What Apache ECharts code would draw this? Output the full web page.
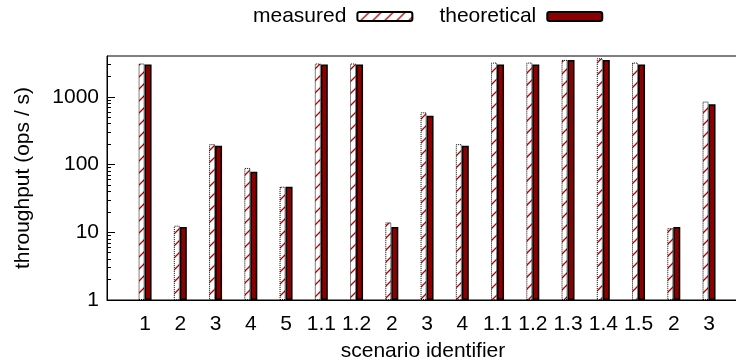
<!DOCTYPE html>
<html>
<head>
<meta charset="utf-8">
<script src="https://cdn.jsdelivr.net/npm/echarts@6/dist/echarts.min.js"></script>
<style>
  html, body { margin: 0; padding: 0; background: #fff; }
  #chart { width: 736px; height: 363px; }
</style>
</head>
<body>
<div id="chart"></div>
<script>
// scenario labels along the x axis
const categories = ['1', '2', '3', '4', '5', '1.1', '1.2', '2', '3', '4', '1.1', '1.2', '1.3', '1.4', '1.5', '2', '3'];
// throughput values (ops / s)
const measured    = [3100, 12.5, 200, 89, 47, 3100, 3100, 14, 590, 200, 3200, 3200, 3500, 3700, 3200, 11.5, 850];
const theoretical = [3000, 12,   190, 78, 47, 3000, 3000, 12, 525, 190, 3000, 3000, 3500, 3500, 3000, 12,   775];
// log axis ticks
const yMajorTicks = [1, 10, 100, 1000];
const yMinorTicks = [2, 3, 4, 5, 6, 7, 8, 9, 20, 30, 40, 50, 60, 70, 80, 90, 200, 300, 400, 500, 600, 700, 800, 900, 2000, 3000];

const X_MIN = -1.08, X_MAX = 16.85;
const FONT = 'Liberation Sans';
const FS = 21;
const darkRed = '#8b0000';

// hatch pattern for the "measured" bars
function hatchTile() {
    const c = document.createElement('canvas');
    c.width = 12; c.height = 12;
    const ctx = c.getContext('2d');
    ctx.fillStyle = '#fff';
    ctx.fillRect(0, 0, 12, 12);
    ctx.strokeStyle = '#b00000';
    ctx.lineWidth = 1.3;
    ctx.beginPath();
    ctx.moveTo(-1, 13); ctx.lineTo(13, -1);
    ctx.moveTo(-1, 1); ctx.lineTo(1, -1);
    ctx.moveTo(11, 13); ctx.lineTo(13, 11);
    ctx.stroke();
    return c;
}

const chart = echarts.init(document.getElementById('chart'));
const idx = categories.map((_, i) => i);
const logAxisBase = { type: 'log', logBase: 10, min: 1, max: 4000, splitLine: { show: false }, minorTick: { show: false } };

chart.setOption({
    animation: false,
    textStyle: { fontFamily: FONT },
    legend: {
        top: 1,
        left: 248,
        align: 'right',
        data: ['measured', 'theoretical'],
        itemWidth: 55,
        itemHeight: 9,
        itemGap: 26,
        textStyle: { fontSize: FS, color: '#000', fontFamily: FONT, padding: [0, 6, 0, 0] }
    },
    grid: {
        left: 107, right: -3, top: 56, bottom: 63,
        outerBoundsMode: 'none',
        containLabel: false,
        show: true, borderColor: '#000', borderWidth: 1
    },
    xAxis: {
        type: 'value',
        min: X_MIN, max: X_MAX,
        name: 'scenario identifier',
        nameLocation: 'middle',
        nameGap: 41,
        nameTextStyle: { fontSize: FS, color: '#000', fontFamily: FONT },
        axisLine: { onZero: false, lineStyle: { color: '#000', width: 1 } },
        axisTick: { inside: true, length: 6, customValues: idx, lineStyle: { color: '#000' } },
        axisLabel: {
            customValues: idx,
            formatter: v => categories[Math.round(v)],
            fontSize: FS, color: '#000', margin: 14
        },
        splitLine: { show: false }
    },
    yAxis: [
        Object.assign({}, logAxisBase, {
            name: 'throughput (ops / s)',
            nameLocation: 'middle',
            nameGap: 73,
            nameTextStyle: { fontSize: FS, color: '#000', fontFamily: FONT },
            axisLine: { onZero: false, lineStyle: { color: '#000', width: 1 } },
            axisTick: { inside: true, length: 8, customValues: yMajorTicks, lineStyle: { color: '#000' } },
            axisLabel: {
                customValues: yMajorTicks,
                formatter: v => String(v),
                fontSize: FS, color: '#000', margin: 8
            }
        }),
        // second axis only carries the minor log ticks
        Object.assign({}, logAxisBase, {
            position: 'left',
            axisLine: { show: false, onZero: false },
            axisLabel: { show: false },
            axisTick: { inside: true, length: 4, customValues: yMinorTicks, lineStyle: { color: '#000' } }
        })
    ],
    series: [
        {
            name: 'measured',
            type: 'bar',
            barWidth: 6,
            barGap: '0%',
            itemStyle: {
                color: { image: hatchTile(), repeat: 'repeat' },
                borderColor: '#000',
                borderWidth: 1,
                borderType: 'dotted'
            },
            data: measured.map((v, i) => [i, v])
        },
        {
            name: 'theoretical',
            type: 'bar',
            barWidth: 7,
            barGap: '0%',
            itemStyle: { color: darkRed, borderColor: '#000', borderWidth: 1.5 },
            data: theoretical.map((v, i) => [i, v])
        }
    ]
});

window.addEventListener('resize', () => chart.resize());
</script>
</body>
</html>
